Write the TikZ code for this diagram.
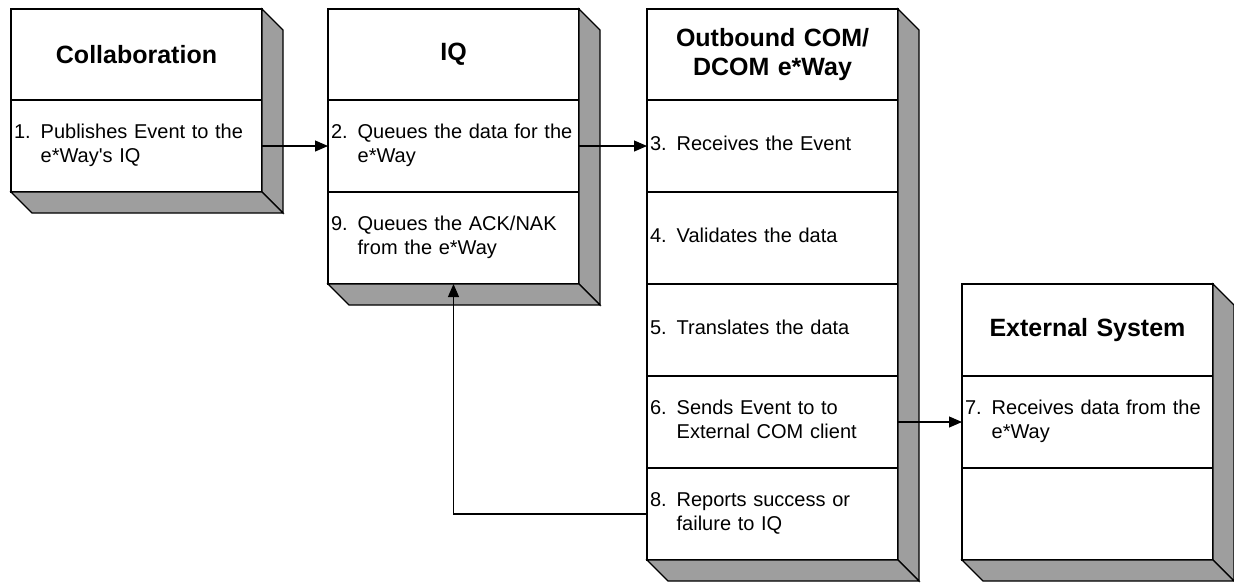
\documentclass[tikz,border=0pt]{standalone}
\usepackage{fontspec}
\setmainfont{Liberation Sans}
\usetikzlibrary{arrows.meta}
\definecolor{shade}{RGB}{158,158,158}
\newcommand\itm[3]{\begin{tabular}{@{}l@{ }l@{}}#1&#2\\&#3\end{tabular}}
\newcommand\itmone[2]{\begin{tabular}{@{}l@{ }l@{}}#1&#2\end{tabular}}
\begin{document}
\begin{tikzpicture}[x=1pt,y=-1pt,
  sec/.style={draw=black, line width=1.1pt, fill=white, minimum width=251pt,
    text width=245pt, inner xsep=3pt, inner ysep=0pt, outer sep=0pt, anchor=north west},
  hdr/.style={sec, minimum height=91pt, align=center, font=\fontsize{25}{29}\selectfont\bfseries},
  body/.style={sec, minimum height=92pt, align=left, font=\fontsize{20}{24}\selectfont},
  side/.style={fill=shade, draw=black, line width=1.1pt, line join=miter},
  arr/.style={draw=black, line width=1.1pt, -{Triangle[length=13pt,width=11pt]}}]
\useasboundingbox (0,0) rectangle (1234,582);

% Collaboration
\node[hdr] (c0) at (11,9) {Collaboration};
\node[body] (c1) at (c0.south west) {\itm{1.}{Publishes Event to the}{e*Way\textquotesingle s IQ}};

% IQ
\node[hdr] (q0) at (328,9) {IQ};
\node[body] (q1) at (q0.south west) {\itm{2.}{Queues the data for the}{e*Way}};
\node[body] (q2) at (q1.south west) {\itm{9.}{Queues the ACK/NAK}{from the e*Way}};

% Outbound
\node[hdr] (o0) at (647,9) {Outbound COM/\\DCOM e*Way};
\node[body] (o1) at (o0.south west) {\itmone{3.}{Receives the Event}};
\node[body] (o2) at (o1.south west) {\itmone{4.}{Validates the data}};
\node[body] (o3) at (o2.south west) {\itmone{5.}{Translates the data}};
\node[body] (o4) at (o3.south west) {\itm{6.}{Sends Event to to}{External COM client}};
\node[body] (o5) at (o4.south west) {\itm{8.}{Reports success or}{failure to IQ}};

% External System
\node[hdr, minimum height=92pt] (e0) at (962,284) {External System};
\node[body] (e1) at (e0.south west) {\itm{7.}{Receives data from the}{e*Way}};
\node[body] (e2) at (e1.south west) {};

% 3D sides
\foreach \t/\b in {c0/c1, q0/q2, o0/o5, e0/e2}{
  \draw[side] (\t.north east) -- ([shift={(21,21)}]\t.north east)
     -- ([shift={(21,21)}]\b.south east) -- (\b.south east) -- cycle;
  \draw[side] (\b.south west) -- (\b.south east)
     -- ([shift={(21,21)}]\b.south east) -- ([shift={(21,21)}]\b.south west) -- cycle;
}

% connectors
\draw[arr] (c1.east) -- (q1.west);
\draw[arr] (q1.east) -- (o1.west);
\draw[arr] (o4.east) -- (e1.west);
\draw[arr] (o5.west) -| (q2.south);
\end{tikzpicture}
\end{document}
